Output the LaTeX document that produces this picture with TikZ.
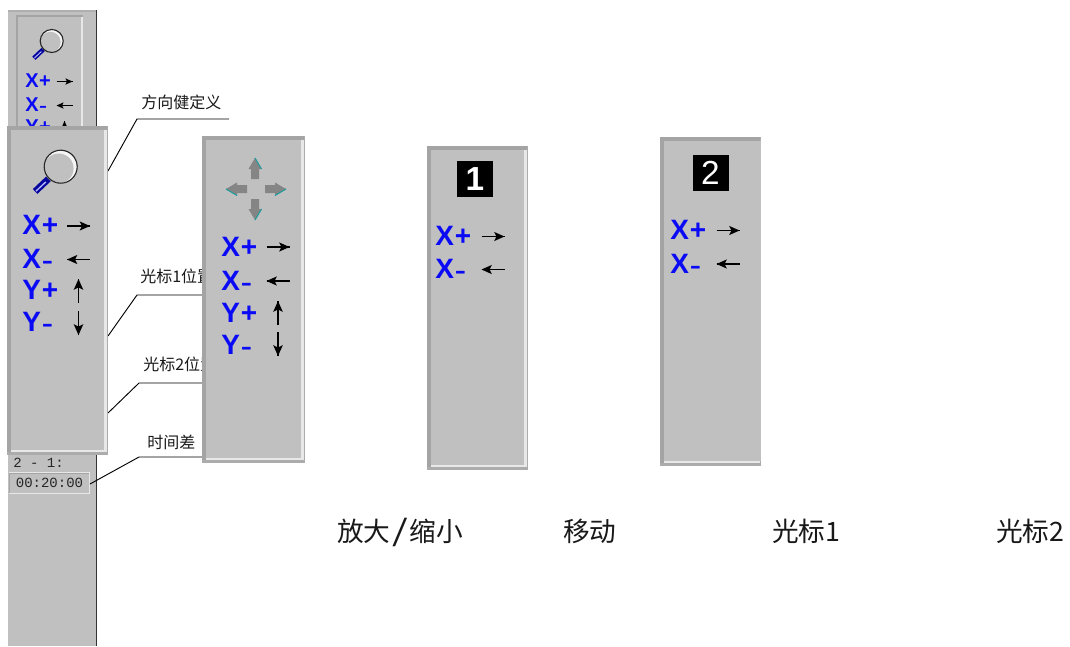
\documentclass[tikz,border=0pt]{standalone}
\usepackage{fontspec}
\setmainfont{Liberation Sans}
\newfontfamily\cjk{Noto Sans CJK SC}
\newfontfamily\keyf{Liberation Sans}
\newfontfamily\monof{Liberation Mono}
\definecolor{panelgray}{HTML}{C0C0C0}
\definecolor{edgedark}{HTML}{A4A4A4}
\definecolor{edgelight}{HTML}{E8E8E8}
\definecolor{keyblue}{HTML}{0A0AF5}
\definecolor{tealedge}{HTML}{1F9C9C}
\definecolor{arrowgray}{HTML}{858585}
\tikzset{
  panelbody/.style={fill=panelgray,draw=none,inner sep=0pt,outer sep=0pt},
  leader/.style={draw=black,line width=0.7pt},
  smalllabel/.style={font=\cjk\fontsize{12}{12}\selectfont,anchor=west,inner sep=0pt,text=black!90},
  biglabel/.style={font=\cjk\fontsize{20}{20}\selectfont,anchor=base west,inner sep=0pt,text=black!90},
  keytext/.style={text=keyblue,inner sep=0pt,anchor=west},
}
\newcommand{\toolpanel}[5]{%
  \node[panelbody,minimum width={(#4-#2)*0.75pt},minimum height={(#5-#3)*0.75pt}] (#1) at ({(#2+#4)/2},{(#3+#5)/2}) {};
  \fill[edgedark] (#2,#3) rectangle (#4,#3+4);
  \fill[edgedark] (#2,#3) rectangle (#2+4,#5);
  \fill[edgedark!70!panelgray] (#2,#5-3) rectangle (#4,#5);
  \fill[edgedark!70!panelgray] (#4-1,#3) rectangle (#4,#5);
  \fill[edgelight] (#4-4,#3+4) rectangle (#4-1,#5-3);
  \fill[edgelight] (#2+4,#5-5) rectangle (#4-1,#5-3);
}
\newcommand{\keyplus}{+}
\newcommand{\keyminus}{\scalebox{1.2}[0.8]{-}}
\newcommand{\keylabel}[5]{%
  \node[keytext] at (#1,#2) {\fontsize{#5}{#5}\selectfont\keyf\bfseries #3\kern0.03em #4};
}
\newcommand{\rarr}[3]{\draw[line width=1pt] (#1-#3,#2)--(#1+#3,#2); \fill (#1+0.1*#3,#2-0.4*#3)--(#1+#3,#2)--(#1+0.1*#3,#2+0.4*#3)--(#1+0.3*#3,#2)--cycle;}
\newcommand{\larr}[3]{\draw[line width=1pt] (#1-#3,#2)--(#1+#3,#2); \fill (#1-0.1*#3,#2-0.4*#3)--(#1-#3,#2)--(#1-0.1*#3,#2+0.4*#3)--(#1-0.3*#3,#2)--cycle;}
\newcommand{\uarr}[3]{\draw[line width=1pt] (#1,#2-#3)--(#1,#2+#3); \fill (#1-0.4*#3,#2-0.1*#3)--(#1,#2-#3)--(#1+0.4*#3,#2-0.1*#3)--(#1,#2-0.3*#3)--cycle;}
\newcommand{\darr}[3]{\draw[line width=1pt] (#1,#2-#3)--(#1,#2+#3); \fill (#1-0.4*#3,#2+0.1*#3)--(#1,#2+#3)--(#1+0.4*#3,#2+0.1*#3)--(#1,#2+0.3*#3)--cycle;}
\newcommand{\magnifier}[3]{%
  \draw[keyblue!65!black,line width={0.4*#3*0.75pt}] (#1-0.66*#3,#2+0.66*#3)--(#1-1.55*#3,#2+1.5*#3);
  \draw[white!70!keyblue,line width={0.08*#3*0.75pt}] (#1-0.9*#3,#2+0.92*#3)--(#1-1.5*#3,#2+1.48*#3);
  \fill[white,opacity=0.85] (#1,#2) circle ({#3});
  \fill[panelgray] (#1-0.12*#3,#2+0.1*#3) circle ({0.9*#3});
  \draw[black!85,line width=0.85pt,dash pattern=on 3pt off 0.25pt] (#1,#2) circle ({#3});
}
% tip x,y, direction dx,dy, teal side
\newcommand{\movearrow}[5]{%
  \fill[arrowgray] (#1,#2)--(#1+11*#3+6.5*#4,#2+11*#4+6.5*#3)--(#1+11*#3+4*#4,#2+11*#4+4*#3)--(#1+21*#3+4*#4,#2+21*#4+4*#3)--(#1+21*#3-4*#4,#2+21*#4-4*#3)--(#1+11*#3-4*#4,#2+11*#4-4*#3)--(#1+11*#3-6.5*#4,#2+11*#4-6.5*#3)--cycle;
  \draw[tealedge,line width=0.8pt] (#1,#2)--(#1+11*#3+#5*6.5*#4,#2+11*#4+#5*6.5*#3);
}
\begin{document}
\begin{tikzpicture}[x=0.75pt,y=-0.75pt]
\useasboundingbox (0,0) rectangle (1070,646);
\fill[white] (0,0) rectangle (1070,646);

% background strip
\node[panelbody,minimum width={88*0.75pt},minimum height={636*0.75pt}] (strip) at (52,328) {};
\fill[edgedark!60!panelgray] (8,10) rectangle (96,12);
\draw[black!80,line width=0.9pt] (96.5,10)--(96.5,646);
\fill[edgedark] (16,15) rectangle (83,17);
\fill[edgedark] (16,15) rectangle (18,130);
\fill[edgelight] (81,17) rectangle (83,130);
\magnifier{51.7}{41}{11.5}
\keylabel{25}{81}{X}{\keyplus}{15}
\keylabel{25}{105}{X}{\keyminus}{15}
\keylabel{25}{127}{Y}{\keyplus}{15}
\rarr{64.5}{81.5}{8}
\larr{64.5}{105.5}{8}
\uarr{64.5}{130}{9}

% readout at the strip
\node[font=\monof\fontsize{10.5}{10.5}\selectfont,anchor=west,inner sep=0pt,text=black!85] (difflabel) at (13,463) {2 - 1:};
\node[draw=edgelight,line width=1pt,fill=panelgray,minimum width={80*0.75pt},minimum height={21*0.75pt},inner sep=0pt,text=black!85,font=\monof\fontsize{10.5}{10.5}\selectfont] (timebox) at (49.5,483) {00:20:00};
\draw[edgedark,line width=0.7pt] (9.5,493)--(9.5,473)--(89,473);

% callout texts and leaders
\node[smalllabel] (t1) at (141,102) {方向健定义};
\node[smalllabel] (t2) at (140,276) {光标1位置};
\node[smalllabel] (t3) at (143,364) {光标2位置};
\node[smalllabel] (t4) at (147,442) {时间差};

\coordinate (k1) at (137,119); \coordinate (e1) at (229,119); \coordinate (a1) at (108,171);
\coordinate (k2) at (137,295); \coordinate (e2) at (204,295); \coordinate (a2) at (108,336);
\coordinate (k3) at (139,383); \coordinate (e3) at (204,383); \coordinate (a3) at (108,413);
\coordinate (k4) at (139,457); \coordinate (e4) at (204,457); \coordinate (a4) at (90,484);
\draw[leader] (e1)--(k1)--(a1);
\draw[leader] (e2)--(k2)--(a2);
\draw[leader] (e3)--(k3)--(a3);
\draw[leader] (e4)--(k4)--(a4);

% zoom panel (left)
\toolpanel{zoomp}{7}{126}{108}{455}
\magnifier{60.7}{166.7}{16.5}
\keylabel{22}{225}{X}{\keyplus}{21}
\keylabel{22}{259}{X}{\keyminus}{21}
\keylabel{22}{290}{Y}{\keyplus}{21}
\keylabel{22}{322}{Y}{\keyminus}{21}
\rarr{78.5}{226}{11.5}
\larr{78.5}{259.5}{11.5}
\uarr{78.5}{291}{12}
\darr{78.5}{323}{12}

% move panel
\toolpanel{movep}{202}{136}{305}{463}
\movearrow{255}{158}{0}{1}{1}
\movearrow{255}{220}{0}{-1}{-1}
\movearrow{226}{189}{1}{0}{1}
\movearrow{286}{189}{-1}{0}{-1}
\keylabel{221}{247}{X}{\keyplus}{21}
\keylabel{221}{281}{X}{\keyminus}{21}
\keylabel{221}{313}{Y}{\keyplus}{21}
\keylabel{221}{345}{Y}{\keyminus}{21}
\rarr{278}{247}{11.5}
\larr{278}{281}{11.5}
\uarr{278}{313}{12}
\darr{278}{344}{12}

% cursor 1 panel
\toolpanel{curone}{427}{146}{528}{470}
\node[fill=black,text=white,minimum size={36*0.75pt},inner sep=0pt,font=\keyf\bfseries\fontsize{25}{25}\selectfont] (badgeone) at (475,179) {1};
\keylabel{435}{236}{X}{\keyplus}{21}
\keylabel{435}{269}{X}{\keyminus}{21}
\rarr{493}{236.5}{11.5}
\larr{493}{269.5}{11.5}

% cursor 2 panel
\toolpanel{curtwo}{660}{137}{761}{466}
\fill[panelgray] (756,141) rectangle (761,461);
\node[fill=black,text=white,minimum size={36*0.75pt},inner sep=0pt,font=\keyf\fontsize{25}{25}\selectfont] (badgetwo) at (710.5,173) {2};
\keylabel{670}{230}{X}{\keyplus}{21}
\keylabel{670}{264}{X}{\keyminus}{21}
\rarr{728}{230.5}{11.5}
\larr{728}{264}{11.5}

% captions
\node[biglabel] (c1) at (337,541) {放大\makebox[0.72em]{\scalebox{1.5}[1.1]{/}}缩小};
\node[biglabel] (c2) at (563,541) {移动};
\node[biglabel] (c3) at (772,541) {光标1};
\node[biglabel] (c4) at (996,541) {光标2};
\end{tikzpicture}
\end{document}
